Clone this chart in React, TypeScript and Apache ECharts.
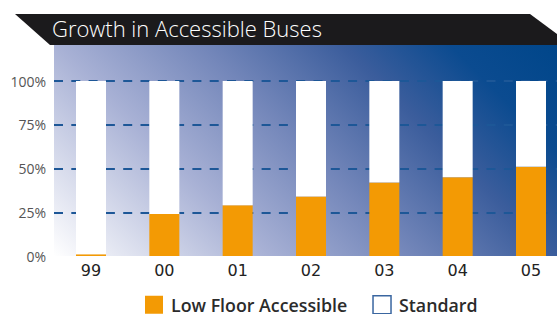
import React, { useEffect, useRef } from "react";
import * as echarts from "echarts";

const years = ["99", "00", "01", "02", "03", "04", "05"];
const lowFloor = [1, 24, 29, 34, 42, 45, 51];
const standard = [99, 76, 71, 66, 58, 55, 49];
const yTicks = [0, 25, 50, 75, 100];
const titleText = "Growth in Accessible Buses";

export default function App() {
  const ref = useRef<HTMLDivElement>(null);
  useEffect(() => {
    document.body.style.margin = "0";
    const chart = echarts.init(ref.current!, null, { renderer: "svg" });
    const font = "Open Sans";
    const yMin = yTicks[0];
    const yMax = yTicks[yTicks.length - 1];
    chart.setOption({
      animation: false,
      textStyle: { fontFamily: font },
      title: {
        text: titleText,
        left: 52,
        top: 17,
        padding: 0,
        textStyle: { color: "#ffffff", fontSize: 22, fontWeight: 300, fontFamily: font },
      },
      graphic: [
        {
          type: "polygon",
          z: -20,
          shape: { points: [[15, 14], [530, 14], [557, 34], [557, 45], [50, 45]] },
          style: { fill: "#1b1a1c" },
        },
        {
          type: "rect",
          z: -20,
          shape: { x: 54, y: 45, width: 503, height: 211 },
          style: {
            fill: new echarts.graphic.LinearGradient(54, 256, 411, -101, [
              { offset: 0, color: "#ffffff" },
              { offset: 0.3, color: "#a8b1d5" },
              { offset: 0.5, color: "#7487ba" },
              { offset: 0.7, color: "#3b5d9c" },
              { offset: 0.85, color: "#0b4b90" },
              { offset: 1, color: "#00468a" },
            ], true),
          },
        },
      ],
      legend: {
        left: 145,
        top: 295,
        padding: 0,
        itemWidth: 18,
        itemHeight: 18,
        itemGap: 25,
        icon: "rect",
        textStyle: {
          color: "#2b2b2b",
          fontSize: 17.8,
          fontWeight: 600,
          fontFamily: font,
          padding: [0, 0, 0, 3],
        },
        data: [
          { name: "Low Floor Accessible" },
          { name: "Standard", itemStyle: { color: "#ffffff", borderColor: "#3a66a0", borderWidth: 1.5 } },
        ],
      },
      grid: [
        { left: 91, top: 81, bottom: 58, right: 26 },
        { left: 54, top: 81, bottom: 58, right: 0 },
      ],
      xAxis: [
        {
          type: "category",
          gridIndex: 0,
          data: years,
          boundaryGap: false,
          axisLine: { show: false },
          axisTick: { show: false },
          splitLine: { show: false },
          axisLabel: { color: "#222222", fontSize: 16, margin: 6, fontFamily: "DejaVu Sans" },
        },
        { type: "value", gridIndex: 1, show: false, min: 0, max: 1 },
      ],
      yAxis: [
        {
          type: "value",
          gridIndex: 0,
          min: yMin,
          max: yMax,
          interval: 25,
          axisLine: { show: false },
          axisTick: { show: false },
          splitLine: { show: false },
          axisLabel: { color: "#555555", fontSize: 14, margin: 45, formatter: "{value}%", fontFamily: font },
        },
        {
          type: "value",
          gridIndex: 1,
          min: yMin,
          max: yMax,
          interval: 25,
          axisLine: { show: false },
          axisTick: { show: false },
          axisLabel: { show: false },
          splitLine: {
            show: true,
            showMinLine: false,
            lineStyle: { color: "#1d5797", width: 2, type: [9, 8.3] },
          },
        },
      ],
      series: [
        {
          name: "Low Floor Accessible",
          type: "bar",
          stack: "total",
          barWidth: 30,
          clip: false,
          data: lowFloor,
          itemStyle: { color: "#f39a04" },
        },
        {
          name: "Standard",
          type: "bar",
          stack: "total",
          barWidth: 30,
          clip: false,
          data: standard,
          itemStyle: { color: "#ffffff" },
        },
      ],
    });
    return () => chart.dispose();
  }, []);
  return <div ref={ref} style={{ width: 557, height: 314 }} />;
}
